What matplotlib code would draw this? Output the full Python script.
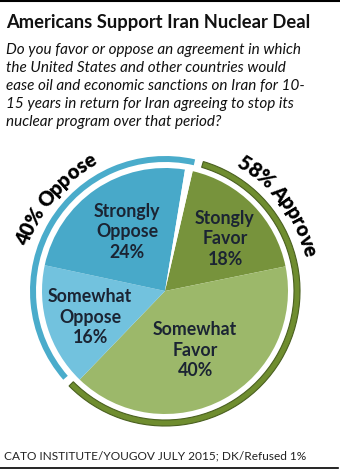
import matplotlib
matplotlib.use("Agg")
import matplotlib.pyplot as plt
import numpy as np

plt.rcParams['font.family'] = ['Lato', 'DejaVu Sans']

# data
slice_labels = ['Stongly\nFavor\n18%', 'Somewhat\nFavor\n40%', 'Somewhat\nOppose\n16%',
                'Strongly\nOppose\n24%', 'DK/Refused']
slice_values = [18, 40, 16, 24, 1]
slice_colors = ['#77933c', '#9cb86a', '#72c2de', '#48a9c9', 'white']

group_labels = ['58% Approve', '40% Oppose']
group_values = [58, 40]
group_colors = ['#6f8d2f', '#4aaccb']
gap = 1

title = 'Americans Support Iran Nuclear Deal'
question = ('Do you favor or oppose an agreement in which\n'
            'the United States and other countries would\n'
            'ease oil and economic sanctions on Iran for 10-\n'
            '15 years in return for Iran agreeing to stop its\n'
            'nuclear program over that period?')
source = 'CATO INSTITUTE/YOUGOV JULY 2015; DK/Refused 1%'

W, H = 340, 470
fig = plt.figure(figsize=(W / 100, H / 100), dpi=100)
ax = fig.add_axes([0, 0, 1, 1])
cx, cy = 165, 179

# inner pie
wedges, _ = ax.pie(slice_values, colors=slice_colors, startangle=77, counterclock=False,
                   center=(cx, cy), radius=123, wedgeprops=dict(linewidth=0))

# outer ring for the two groups
ring_vals = [group_values[0], gap, group_values[1], gap]
ring_cols = [group_colors[0], 'white', group_colors[1], 'white']
rw, _ = ax.pie(ring_vals, colors=ring_cols, startangle=73.5, counterclock=False,
               center=(cx, cy), radius=135, wedgeprops=dict(width=6, linewidth=0))
rw[0].set_edgecolor('#4a6020')
rw[0].set_linewidth(0.8)
rw[1].set_visible(False)
rw[3].set_visible(False)

ax.set_xlim(0, W)
ax.set_ylim(0, H)
ax.set_aspect('auto')
ax.axis('off')

# slice labels
label_pos = [(225, 231), (195, 120), (90, 153), (127, 238)]
for lab, (x, y) in zip(slice_labels[:4], label_pos):
    ax.text(x, y, lab, ha='center', va='center', fontsize=12.8, fontweight='bold',
            color='#1b2433', linespacing=1.25)

# curved group labels
renderer = fig.canvas.get_renderer()


def char_w(ch, fp):
    w1 = renderer.get_text_width_height_descent('a' + ch + 'a', fp, ismath=False)[0]
    w0 = renderer.get_text_width_height_descent('aa', fp, ismath=False)[0]
    return w1 - w0


def curved(txt, center_deg, r, size):
    fp = matplotlib.font_manager.FontProperties(family='Lato', weight='heavy', size=size)
    ws = [char_w(c, fp) for c in txt]
    total = sum(ws)
    start = np.radians(center_deg) - total / r / 2
    pos = 0
    for c, w in zip(txt, ws):
        th = start + (pos + w / 2) / r
        pos += w
        ax.text(cx + r * np.sin(th), cy + r * np.cos(th), c, fontproperties=fp,
                rotation=-np.degrees(th), rotation_mode='anchor',
                ha='center', va='center', color='black')


curved(group_labels[0], 53, 150, 14.5)
curved(group_labels[1], 310, 150, 14.5)

# header / footer
ax.plot([0, W], [H - 1, H - 1], color='black', lw=1.5)
ax.plot([0, W - 2], [2, 2], color='black', lw=1.2)
ax.text(6, H - 28, title, fontsize=13.2, fontweight='bold', color='#111111', va='baseline')
ax.text(6, H - 43, question, fontsize=11, style='italic', color='#111111', va='top',
        linespacing=1.37)
ax.text(4, H - 456, source, fontsize=8.6, color='#222222', va='center')

fig.savefig('out.png', dpi=100)
